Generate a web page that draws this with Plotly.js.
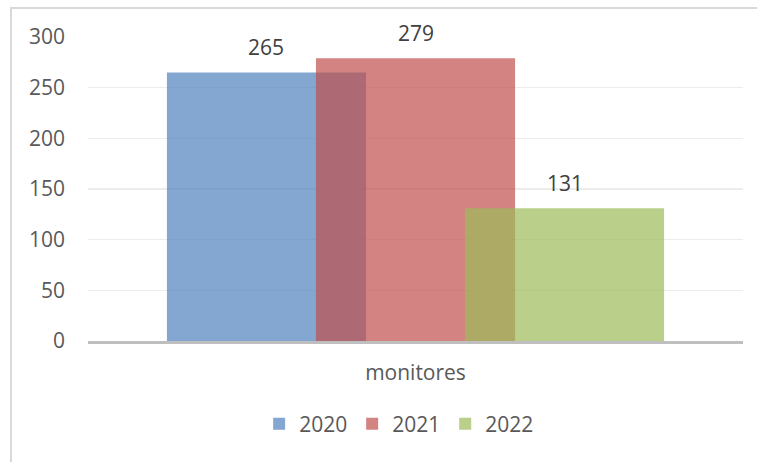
<!DOCTYPE html>
<html>
<head>
<meta charset="utf-8">
<script src="https://cdn.plot.ly/plotly-3.0.1.min.js"></script>
<style>
  html, body { margin: 0; padding: 0; overflow: hidden; background: #fff; width: 757px; height: 462px; }
  #chart { position: absolute; left: 10px; top: 7px; width: 760px; height: 470px; border: 2px solid #d9d9d9; }
</style>
</head>
<body>
<div id="chart"></div>
<script>
// Data
const categories = ["monitores"];
const seriesNames = ["2020", "2021", "2022"];
const values2020 = [265];
const values2021 = [279];
const values2022 = [131];
const seriesValues = [values2020, values2021, values2022];
const yTickVals = [0, 50, 100, 150, 200, 250, 300];

// Styles
const colors = ["rgba(79,129,189,0.7)", "rgba(192,80,77,0.7)", "rgba(155,187,89,0.7)"];
const barWidth = 0.304;
const barStep = 0.2275;
const groupStart = -(2 * barStep + barWidth) / 2;
const fontFamily = "Open Sans, sans-serif";

const catPos = categories.map((c, i) => i);
const traces = [];
const annotations = [];
seriesNames.forEach((name, s) => {
  const off = groupStart + s * barStep;
  traces.push({
    type: "bar",
    name: name,
    x: catPos,
    y: seriesValues[s],
    width: barWidth,
    offset: off,
    marker: { color: colors[s], line: { width: 0 } },
    hoverinfo: "skip"
  });
  seriesValues[s].forEach((v, i) => {
    annotations.push({
      x: catPos[i] + off + barWidth / 2,
      y: v,
      xref: "x", yref: "y",
      text: String(v),
      showarrow: false,
      yanchor: "middle",
      yshift: 25,
      font: { family: fontFamily, size: 21, color: "#404040" }
    });
  });
});

const layout = {
  width: 760,
  height: 470,
  margin: { l: 76, r: 29, t: 28, b: 138 },
  paper_bgcolor: "#ffffff",
  plot_bgcolor: "#ffffff",
  barmode: "overlay",
  showlegend: true,
  legend: {
    orientation: "h",
    x: 0.475, xanchor: "center",
    y: -0.273, yanchor: "middle",
    font: { family: fontFamily, size: 21, color: "#595959" },
    itemwidth: 30,
    traceorder: "normal"
  },
  xaxis: {
    range: [-0.5, categories.length - 0.5],
    tickvals: catPos,
    ticktext: categories,
    showgrid: false,
    zeroline: false,
    showline: true,
    linecolor: "#bfbfbf",
    linewidth: 3,
    ticks: "",
    ticklabelstandoff: 11,
    tickfont: { family: fontFamily, size: 21, color: "#595959" },
    fixedrange: true
  },
  yaxis: {
    range: [0, 300],
    tickvals: yTickVals,
    showgrid: true,
    gridcolor: "#ececec",
    gridwidth: 1.5,
    zeroline: false,
    showline: false,
    ticks: "",
    ticklabelstandoff: 22,
    tickfont: { family: fontFamily, size: 21, color: "#595959" },
    fixedrange: true
  },
  annotations: annotations
};

Plotly.newPlot("chart", traces, layout, { displayModeBar: false, staticPlot: true });
</script>
</body>
</html>
